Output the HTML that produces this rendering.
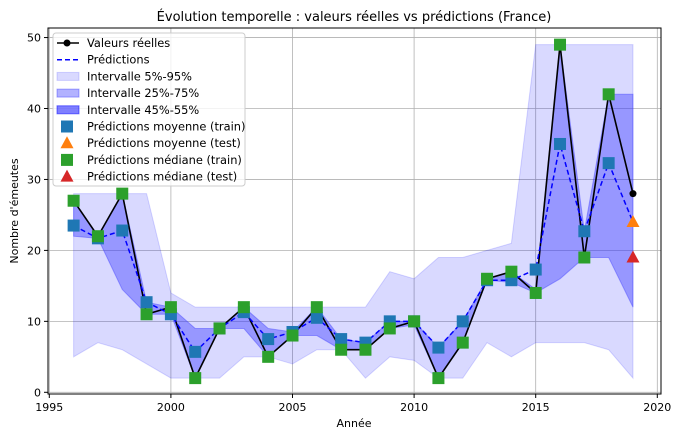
<!DOCTYPE html>
<html><head><meta charset="utf-8"><style>
body{margin:0;background:#fff;}
svg{display:block;font-family:"DejaVu Sans","Liberation Sans",sans-serif;}
</style></head><body>
<svg id="s" width="678" height="437" xmlns="http://www.w3.org/2000/svg">
<rect width="678" height="437" fill="#fff"/>
<g id="g"></g>
</svg>
<script>
const X=y=>49.3+(y-1995)*24.32, Y=v=>392.3-v*7.095;
const yrs=[];for(let y=1996;y<=2019;y++)yrs.push(y);
const act=[27,22,28,11,12,2,9,12,5,8,12,6,6,9,10,2,7,16,17,14,49,19,42,28];
const mean=[23.5,21.7,22.8,12.7,11,5.7,9,11.3,7.5,8.5,10.5,7.5,7,10,10,6.3,10,15.8,15.8,17.3,35,22.7,32.3];
const up95=[28,28,28,28,14,12,12,12,12,12,12,12,12,17,16,19,19,20,21,49,49,49,49,49];
const lo5=[5,7,6,4,2,2,2,5,5,4,6,6,2,5,4.5,2,2,7,5,7,7,7,6,2];
const up50=[27,22,28,12.7,12,9,9,12,9,8.5,12,7.5,7,10,10,6.3,10,16,17,14.5,49,22.7,42,42];
const lo50=[22,21.7,14.5,11,11,2,9,9,5,8,8,6,6,9,9.5,2,7,15.8,15.5,14,16,19,19,12];
let h='';
const poly=(u,l,f)=>{let p=yrs.map((y,i)=>X(y)+','+Y(u[i])).join(' ')+' '+yrs.slice().reverse().map((y,j)=>{let i=yrs.length-1-j;return X(y)+','+Y(l[i])}).join(' ');return `<polygon points="${p}" fill="${f}" stroke="${f}" stroke-width="1"/>`;};
for(let y=1995;y<=2020;y+=5)h+=`<line x1="${X(y)}" x2="${X(y)}" y1="28" y2="394" stroke="#b0b0b0" stroke-width="0.8"/>`;
for(let v=0;v<=50;v+=10)h+=`<line x1="48" x2="661" y1="${Y(v)}" y2="${Y(v)}" stroke="#b0b0b0" stroke-width="0.8"/>`;
h+=poly(up95,lo5,'rgba(0,0,255,0.15)');
h+=poly(up50,lo50,'rgba(60,60,255,0.42)');
h+=`<polyline points="${yrs.map((y,i)=>X(y)+','+Y(act[i])).join(' ')}" fill="none" stroke="#000" stroke-width="1.6"/>`;
h+=`<circle cx="${X(2019)}" cy="${Y(28)}" r="3.5" fill="#000"/>`;
h+=`<polyline points="${yrs.map((y,i)=>X(y)+','+Y(i<23?mean[i]:24)).join(' ')}" fill="none" stroke="#0000ff" stroke-width="1.5" stroke-dasharray="5,3"/>`;
const sq=(x,y,c)=>`<rect x="${x-6}" y="${y-6}" width="12" height="12" fill="${c}"/>`;
mean.forEach((v,i)=>h+=sq(X(yrs[i]),Y(v),'#1f77b4'));
act.slice(0,23).forEach((v,i)=>h+=sq(X(yrs[i]),Y(v),'#2ca02c'));
const tri=(x,y,c)=>`<polygon points="${x},${y-7} ${x-6.5},${y+5} ${x+6.5},${y+5}" fill="${c}"/>`;
h+=tri(X(2019),Y(24),'#ff7f0e');h+=tri(X(2019),Y(19),'#d62728');
h+=`<rect x="48" y="28" width="613" height="366" fill="none" stroke="#000" stroke-width="1"/>`;
for(let y=1995;y<=2020;y+=5)h+=`<line x1="${X(y)}" x2="${X(y)}" y1="394" y2="398" stroke="#000"/><text x="${X(y)}" y="411" font-size="11" text-anchor="middle">${y}</text>`;
for(let v=0;v<=50;v+=10)h+=`<line x1="44" x2="48" y1="${Y(v)}" y2="${Y(v)}" stroke="#000"/><text x="41" y="${Y(v)+4}" font-size="11" text-anchor="end">${v}</text>`;
h+=`<text x="354" y="427" font-size="11" text-anchor="middle">Année</text>`;
h+=`<text transform="translate(18,211) rotate(-90)" font-size="11" text-anchor="middle">Nombre d'émeutes</text>`;
h+=`<text x="354" y="21" font-size="13" text-anchor="middle">Évolution temporelle : valeurs réelles vs prédictions (France)</text>`;
h+=`<rect x="53" y="33" width="192" height="153" rx="3" fill="rgba(255,255,255,0.8)" stroke="#ccc"/>`;
const L=["Valeurs réelles","Prédictions","Intervalle 5%-95%","Intervalle 25%-75%","Intervalle 45%-55%","Prédictions moyenne (train)","Prédictions moyenne (test)","Prédictions médiane (train)","Prédictions médiane (test)"];
L.forEach((t,i)=>{let y=43+i*16.7;h+=`<text x="87" y="${y+4}" font-size="11.4">${t}</text>`;
 if(i==0)h+=`<line x1="57" x2="79" y1="${y}" y2="${y}" stroke="#000" stroke-width="1.6"/><circle cx="67" cy="${y}" r="3.5"/>`;
 if(i==1)h+=`<line x1="57" x2="79" y1="${y}" y2="${y}" stroke="#00f" stroke-width="1.5" stroke-dasharray="5,3"/>`;
 if(i>=2&&i<=4){let f=['rgba(0,0,255,0.15)','rgba(0,0,255,0.3)','rgba(0,0,255,0.5)'][i-2];h+=`<rect x="57" y="${y-4}" width="22" height="8" fill="${f}" stroke="${f}"/>`;}
 if(i==5)h+=sq(67,y,'#1f77b4');if(i==7)h+=sq(67,y,'#2ca02c');
 if(i==6)h+=tri(67,y,'#ff7f0e');if(i==8)h+=tri(67,y,'#d62728');});
document.getElementById('g').innerHTML=h;
</script>
</body></html>
